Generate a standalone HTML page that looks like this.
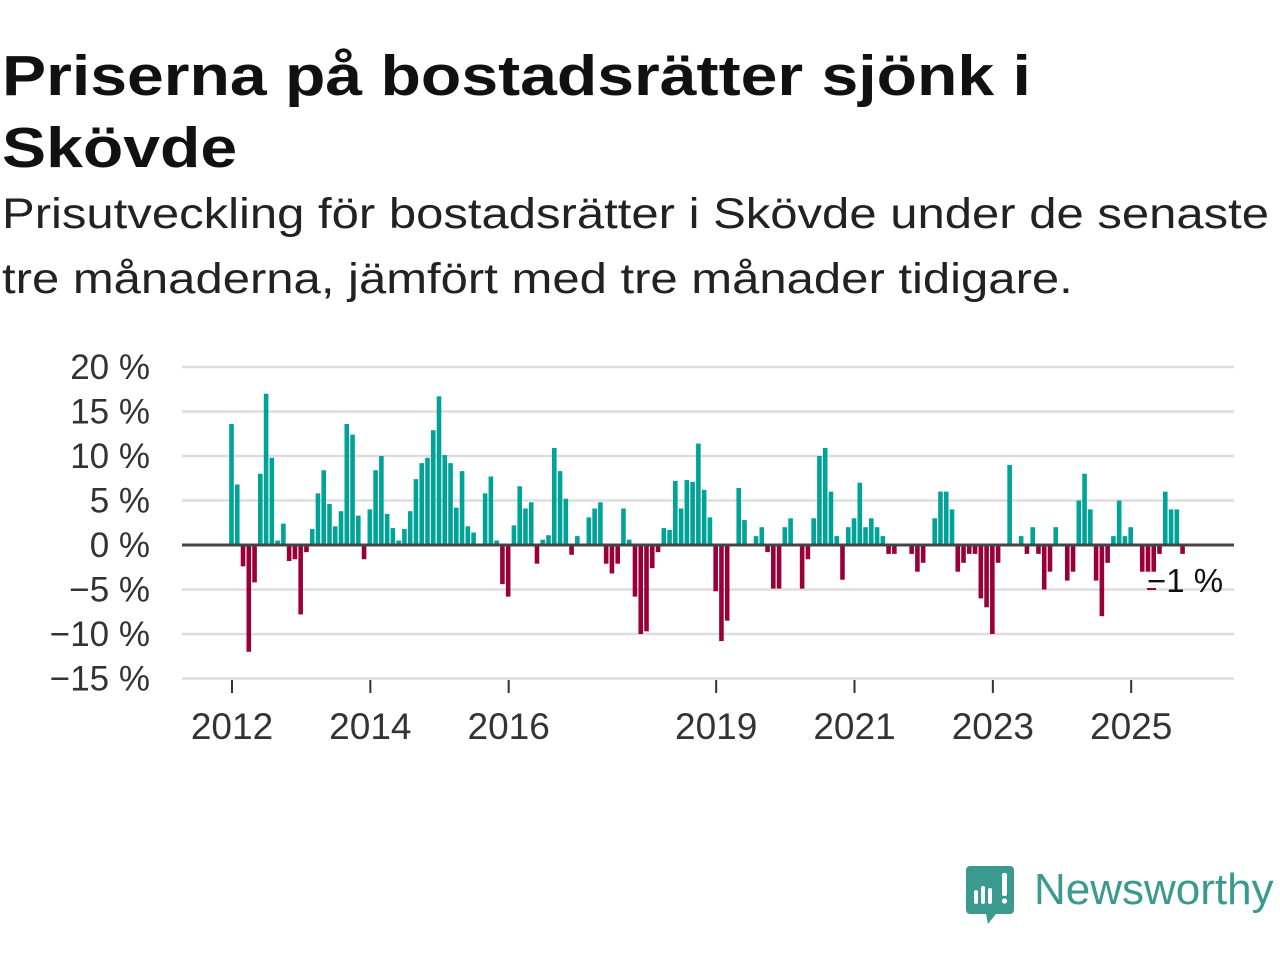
<!DOCTYPE html>
<html><head><meta charset="utf-8">
<style>
html,body{margin:0;padding:0;background:#fff;width:1280px;height:960px;overflow:hidden;font-family:"Liberation Sans",sans-serif;}
#title{position:absolute;left:2px;top:40px;font-size:57px;font-weight:bold;line-height:72px;color:#111;margin:0;transform:scaleX(1.16);transform-origin:0 0;white-space:nowrap;}
#subtitle{position:absolute;left:2px;top:182px;font-size:43px;line-height:65px;color:#222;margin:0;transform:scaleX(1.14);transform-origin:0 0;white-space:nowrap;}
svg{position:absolute;left:0;top:0;}
</style></head>
<body>
<h1 id="title">Priserna på bostadsrätter sjönk i<br>Skövde</h1>
<p id="subtitle">Prisutveckling för bostadsrätter i Skövde under de senaste<br>tre månaderna, jämfört med tre månader tidigare.</p>
<svg id="chart" width="1280" height="960"></svg>
<script>
const values = [13.6,6.8,-2.4,-12,-4.2,8,17,9.8,0.5,2.4,-1.8,-1.6,-7.8,-0.8,1.8,5.8,8.4,4.6,2.1,3.8,13.6,12.4,3.3,-1.6,4,8.4,10,3.5,1.9,0.5,1.8,3.8,7.4,9.2,9.8,12.9,16.7,10.1,9.2,4.2,8.3,2.1,1.4,0,5.8,7.7,0.5,-4.4,-5.8,2.2,6.6,4.1,4.8,-2.1,0.6,1.1,10.9,8.3,5.2,-1.1,1,0,3.1,4.1,4.8,-2.1,-3.2,-2.1,4.1,0.6,-5.8,-10,-9.7,-2.6,-0.8,1.9,1.7,7.2,4.1,7.3,7.1,11.4,6.2,3.1,-5.2,-10.8,-8.5,0,6.4,2.8,0,1,2,-0.8,-4.9,-4.9,2,3,0,-4.9,-1.6,3,10,10.9,6,1,-3.9,2,3,7,2,3,2,1,-1,-1,0,0,-1,-3,-2,0,3,6,6,4,-3,-2,-1,-1,-6,-7,-10,-2,0,9,0,1,-1,2,-1,-5,-3,2,0,-4,-3,5,8,4,-4,-8,-2,1,5,1,2,0,-3,-3,-3,-1,6,4,4,-1];
const startYear = 2012;
const yTicks = [20,15,10,5,0,-5,-10,-15];
const xTickYears = [2012,2014,2016,2019,2021,2023,2025];
const lastLabel = "−1 %";
const NS="http://www.w3.org/2000/svg";
const svg=document.getElementById('chart');
const y0=545, pxPer=8.9, x0=231.5, step=5.764;
function yS(v){return y0 - v*pxPer;}
function xS(i){return x0 + i*step;}
function mk(t,a){const e=document.createElementNS(NS,t);for(const k in a)e.setAttribute(k,a[k]);svg.appendChild(e);return e;}
yTicks.forEach(t=>{
  if(t!==0){const g=mk('line',{x1:182,x2:1234,y1:yS(t),y2:yS(t),stroke:'#dddddd','stroke-width':2.5});
  
  }
  const tx=mk('text',{x:150,y:yS(t)+12,'text-anchor':'end','font-size':35,fill:'#333','font-family':'Liberation Sans, sans-serif'});
  tx.textContent=(t<0?'−'+(-t):t)+' %';
  
  
});
xTickYears.forEach(yr=>{
  const i=(yr-startYear)*12, x=xS(i)+0.5;
  const l=mk('line',{x1:x,x2:x,y1:680,y2:693,stroke:'#333','stroke-width':2});
  
  
  const tx=mk('text',{x:x,y:739,'text-anchor':'middle','font-size':37,fill:'#333','font-family':'Liberation Sans, sans-serif'});
  tx.textContent=yr;
  
  
});
values.forEach((v,i)=>{
  if(v===0)return;
  const x=xS(i)-2.3, top=Math.min(yS(v),y0), h=Math.abs(yS(v)-y0);
  const r=mk('rect',{x:x,y:top,width:4.6,height:h,fill:v>0?'#00a398':'#99003a'});
  
  
});
const z=mk('line',{x1:182,x2:1234,y1:y0,y2:y0,stroke:'#444','stroke-width':3});


const dash=mk('rect',{x:1147,y:588,width:9,height:2,fill:'#99003a'});


const lab=mk('text',{x:1147,y:592,'font-size':33,fill:'#111','font-family':'Liberation Sans, sans-serif'});
lab.textContent=lastLabel;


</script>
<svg width="1280" height="960" style="pointer-events:none">
  <path d="M970 866 h40 a4 4 0 0 1 4 4 v40 a4 4 0 0 1 -4 4 h-14 l-8 10 l-2 -10 h-16 a4 4 0 0 1 -4 -4 v-40 a4 4 0 0 1 4 -4z" fill="#3a9a8f"/>
  <rect x="974" y="890" width="4" height="14" rx="2" fill="#fff"/>
  <rect x="981" y="886" width="4" height="18" rx="2" fill="#fff"/>
  <rect x="988" y="888" width="4" height="16" rx="2" fill="#fff"/>
  <rect x="1002" y="873" width="5" height="23" rx="2" fill="#fff"/>
  <circle cx="1004.5" cy="901" r="2.6" fill="#fff"/>
  <text x="1034" y="904" font-size="44" fill="#3a9a8f" font-family="Liberation Sans, sans-serif">Newsworthy</text>
</svg>
</body></html>
